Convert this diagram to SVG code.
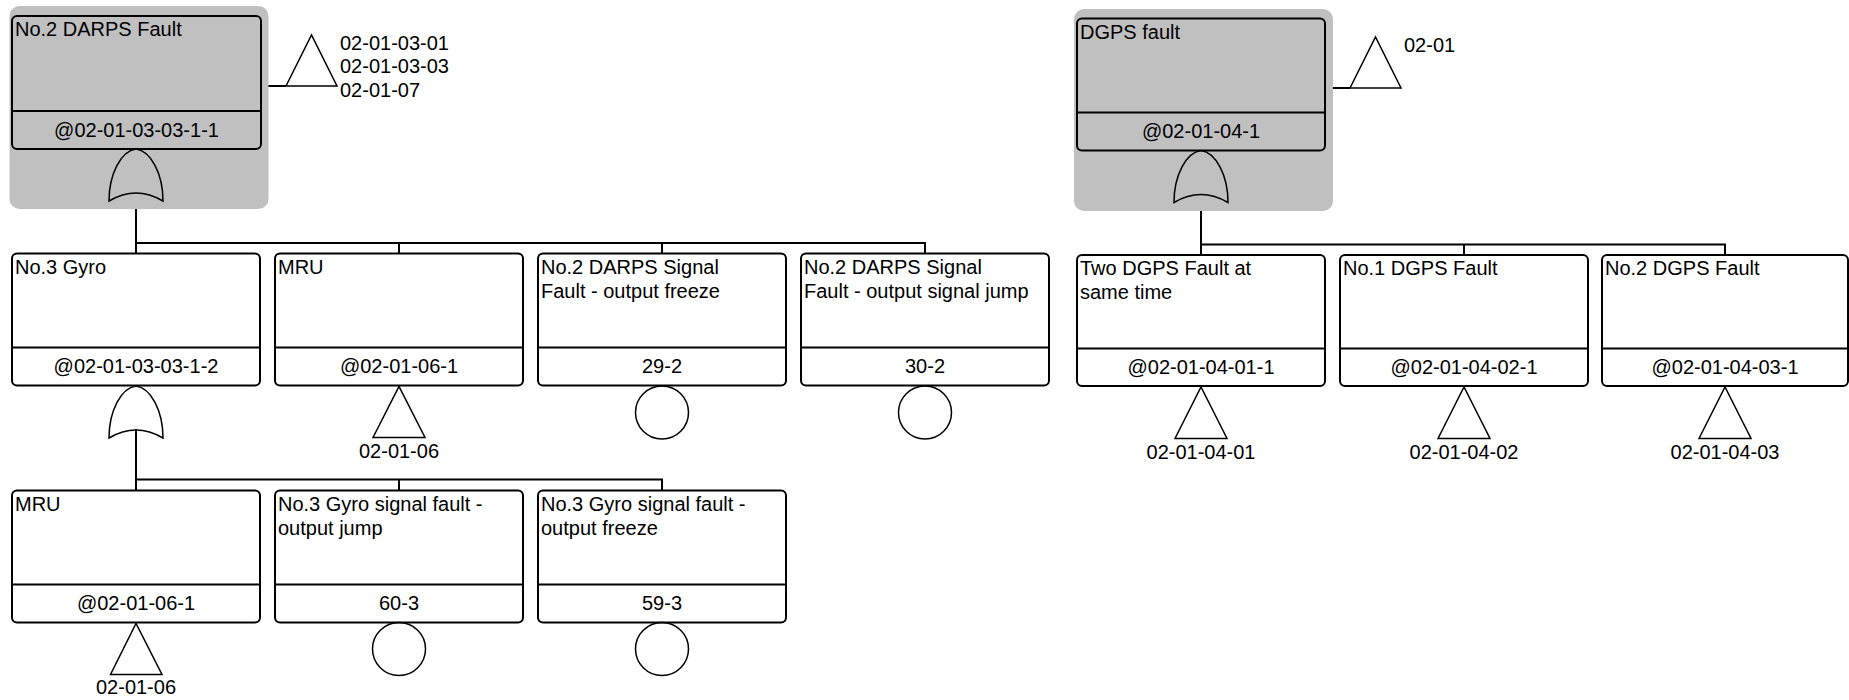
<svg xmlns="http://www.w3.org/2000/svg" width="1849" height="700" viewBox="0 0 1849 700">
<style>
.bg{fill:#ffffff}
.shadow{fill:#c0c0c0}
.box{fill:#ffffff;stroke:#000;stroke-width:2}
.topbox{fill:none;stroke:#000;stroke-width:2}
.div{stroke:#000;stroke-width:2}
.con{stroke:#000;stroke-width:2;fill:none}
.tri{fill:none;stroke:#000;stroke-width:1.5;stroke-linejoin:miter}
.gate{fill:none;stroke:#000;stroke-width:1.5}
.circ{fill:none;stroke:#000;stroke-width:1.5}
text{font-family:"Liberation Sans",Arial,sans-serif;font-size:20px;fill:#000}
.c{text-anchor:middle}
</style>
<rect class="bg" x="0" y="0" width="1849" height="700"/>

<g id="connectors">
  <!-- left tree -->
  <line class="con" x1="261" y1="86" x2="286" y2="86"/>
  <line class="con" x1="136" y1="192" x2="136" y2="243"/>
  <polyline class="con" points="136,253.5 136,243 925,243 925,253.5"/>
  <line class="con" x1="399" y1="243" x2="399" y2="253.5"/>
  <line class="con" x1="662" y1="243" x2="662" y2="253.5"/>
  <line class="con" x1="136" y1="429" x2="136" y2="479.5"/>
  <polyline class="con" points="136,490.5 136,479.5 662,479.5 662,490.5"/>
  <line class="con" x1="399" y1="479.5" x2="399" y2="490.5"/>
  <!-- right tree -->
  <line class="con" x1="1325" y1="88" x2="1350" y2="88"/>
  <line class="con" x1="1201" y1="194" x2="1201" y2="244.5"/>
  <polyline class="con" points="1201,255 1201,244.5 1725,244.5 1725,255"/>
  <line class="con" x1="1464" y1="244.5" x2="1464" y2="255"/>
</g>

<g id="n-darps">
  <rect class="shadow" x="9.5" y="6" width="259" height="203" rx="10"/>
  <rect class="topbox" x="12" y="16" width="249" height="133" rx="5"/>
  <line class="div" x1="12" y1="111" x2="261" y2="111"/>
  <text x="15" y="36">No.2 DARPS Fault</text>
  <text class="c" x="136.5" y="136.5">@02-01-03-03-1-1</text>
  <path class="gate" d="M109,201 C109,174 121,151 136,149 C151,151 163,174 163,201 Q136,185 109,201 Z"/>
  <polygon class="tri" points="286,86 311.5,35 337,86"/>
  <text x="340" y="49.5">02-01-03-01</text>
  <text x="340" y="73">02-01-03-03</text>
  <text x="340" y="96.5">02-01-07</text>
</g>

<g id="n-gyro3">
  <rect class="box" x="12" y="253.5" width="248" height="132" rx="5"/>
  <line class="div" x1="12" y1="347.5" x2="260" y2="347.5"/>
  <text x="15" y="273.5">No.3 Gyro</text>
  <text class="c" x="136" y="373">@02-01-03-03-1-2</text>
  <path class="gate" d="M109,438 C109,411 121,388 136,386 C151,388 163,411 163,438 Q136,422 109,438 Z"/>
</g>

<g id="n-mru1">
  <rect class="box" x="275" y="253.5" width="248" height="132" rx="5"/>
  <line class="div" x1="275" y1="347.5" x2="523" y2="347.5"/>
  <text x="278" y="273.5">MRU</text>
  <text class="c" x="399" y="373">@02-01-06-1</text>
  <polygon class="tri" points="373,437.5 399,386.5 425,437.5"/>
  <text class="c" x="399" y="457.5">02-01-06</text>
</g>

<g id="n-darps-freeze">
  <rect class="box" x="538" y="253.5" width="248" height="132" rx="5"/>
  <line class="div" x1="538" y1="347.5" x2="786" y2="347.5"/>
  <text x="541" y="273.5">No.2 DARPS Signal</text>
  <text x="541" y="297.5">Fault - output freeze</text>
  <text class="c" x="662" y="373">29-2</text>
  <circle class="circ" cx="662" cy="412.5" r="26.5"/>
</g>

<g id="n-darps-jump">
  <rect class="box" x="801" y="253.5" width="248" height="132" rx="5"/>
  <line class="div" x1="801" y1="347.5" x2="1049" y2="347.5"/>
  <text x="804" y="273.5">No.2 DARPS Signal</text>
  <text x="804" y="297.5">Fault - output signal jump</text>
  <text class="c" x="925" y="373">30-2</text>
  <circle class="circ" cx="925" cy="412.5" r="26.5"/>
</g>

<g id="n-mru2">
  <rect class="box" x="12" y="490.5" width="248" height="132" rx="5"/>
  <line class="div" x1="12" y1="584.5" x2="260" y2="584.5"/>
  <text x="15" y="510.5">MRU</text>
  <text class="c" x="136" y="610">@02-01-06-1</text>
  <polygon class="tri" points="110.5,674.5 136,623.5 162,674.5"/>
  <text class="c" x="136" y="693.5">02-01-06</text>
</g>

<g id="n-gyro-jump">
  <rect class="box" x="275" y="490.5" width="248" height="132" rx="5"/>
  <line class="div" x1="275" y1="584.5" x2="523" y2="584.5"/>
  <text x="278" y="510.5">No.3 Gyro signal fault -</text>
  <text x="278" y="534.5">output jump</text>
  <text class="c" x="399" y="610">60-3</text>
  <circle class="circ" cx="399" cy="649" r="26.5"/>
</g>

<g id="n-gyro-freeze">
  <rect class="box" x="538" y="490.5" width="248" height="132" rx="5"/>
  <line class="div" x1="538" y1="584.5" x2="786" y2="584.5"/>
  <text x="541" y="510.5">No.3 Gyro signal fault -</text>
  <text x="541" y="534.5">output freeze</text>
  <text class="c" x="662" y="610">59-3</text>
  <circle class="circ" cx="662" cy="649" r="26.5"/>
</g>

<g id="n-dgps">
  <rect class="shadow" x="1074" y="9" width="259" height="202" rx="10"/>
  <rect class="topbox" x="1077" y="18.5" width="248" height="132" rx="5"/>
  <line class="div" x1="1077" y1="112.5" x2="1325" y2="112.5"/>
  <text x="1080" y="38.5">DGPS fault</text>
  <text class="c" x="1201" y="137.5">@02-01-04-1</text>
  <path class="gate" d="M1174,202.5 C1174,175.5 1186,152.5 1201,150.5 C1216,152.5 1228,175.5 1228,202.5 Q1201,186.5 1174,202.5 Z"/>
  <polygon class="tri" points="1350,88 1375.5,37 1401,88"/>
  <text x="1404" y="51.5">02-01</text>
</g>

<g id="n-dgps-two">
  <rect class="box" x="1077" y="255" width="248" height="131" rx="5"/>
  <line class="div" x1="1077" y1="348.5" x2="1325" y2="348.5"/>
  <text x="1080" y="275">Two DGPS Fault at</text>
  <text x="1080" y="299">same time</text>
  <text class="c" x="1201" y="374">@02-01-04-01-1</text>
  <polygon class="tri" points="1175,438.5 1201,387 1227,438.5"/>
  <text class="c" x="1201" y="458.5">02-01-04-01</text>
</g>

<g id="n-dgps1">
  <rect class="box" x="1340" y="255" width="248" height="131" rx="5"/>
  <line class="div" x1="1340" y1="348.5" x2="1588" y2="348.5"/>
  <text x="1343" y="275">No.1 DGPS Fault</text>
  <text class="c" x="1464" y="374">@02-01-04-02-1</text>
  <polygon class="tri" points="1438,438.5 1464,387 1490,438.5"/>
  <text class="c" x="1464" y="458.5">02-01-04-02</text>
</g>

<g id="n-dgps2">
  <rect class="box" x="1602" y="255" width="246" height="131" rx="5"/>
  <line class="div" x1="1602" y1="348.5" x2="1848" y2="348.5"/>
  <text x="1605" y="275">No.2 DGPS Fault</text>
  <text class="c" x="1725" y="374">@02-01-04-03-1</text>
  <polygon class="tri" points="1699,438.5 1725,387 1751,438.5"/>
  <text class="c" x="1725" y="458.5">02-01-04-03</text>
</g>
</svg>
